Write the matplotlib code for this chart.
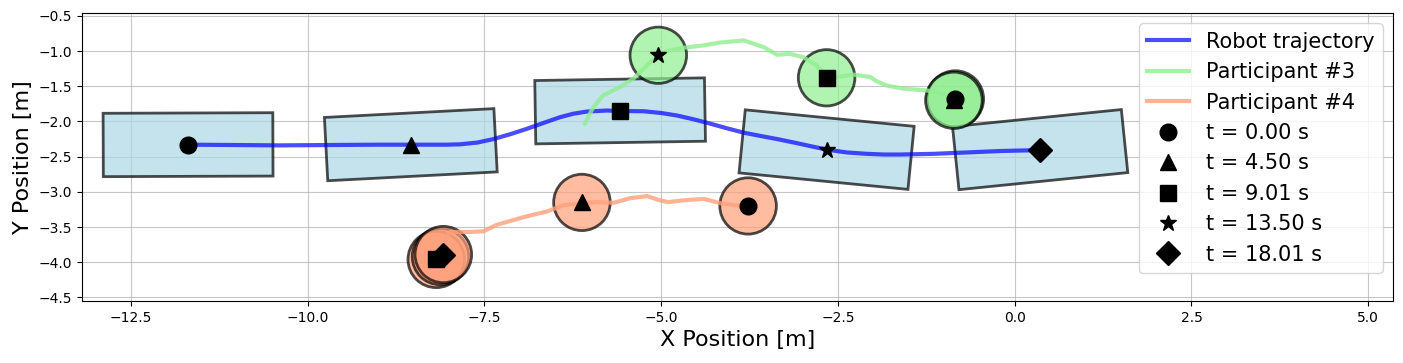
import matplotlib
matplotlib.use("Agg")
import matplotlib.pyplot as plt
from matplotlib.patches import Rectangle, Circle
from matplotlib.lines import Line2D
import matplotlib.transforms as mtransforms
import numpy as np

# ---- data ----
times = [0.00, 4.50, 9.01, 13.50, 18.01]
marker_shapes = ['o', '^', 's', '*', 'D']

robot_x = [-11.69, -11.0, -10.39, -9.7, -8.98, -8.54, -8.03, -7.845, -7.6, -7.37, -7.13,
           -6.90, -6.66, -6.43, -6.24, -6.05, -5.77, -5.58, -5.25, -5.0, -4.78, -4.54,
           -4.31, -4.06, -3.83, -3.60, -3.36, -3.12, -2.89, -2.66, -2.38, -2.09, -1.85,
           -1.62, -1.15, -0.67, -0.20, 0.22, 0.36]
robot_y = [-2.33, -2.335, -2.34, -2.335, -2.33, -2.33, -2.33, -2.325, -2.30, -2.25, -2.18,
           -2.105, -2.02, -1.94, -1.89, -1.86, -1.845, -1.852, -1.855, -1.88, -1.915, -1.97,
           -2.03, -2.10, -2.16, -2.205, -2.25, -2.30, -2.35, -2.40, -2.44, -2.46, -2.47,
           -2.47, -2.46, -2.44, -2.42, -2.41, -2.40]

# robot poses at the marker times (x, y, heading in degrees)
robot_pose_x = [-11.69, -8.54, -5.58, -2.66, 0.36]
robot_pose_y = [-2.33, -2.33, -1.85, -2.40, -2.40]
robot_pose_heading = [0.2, 3.0, 0.9, -5.6, 5.8]
robot_length = 2.4
robot_width = 0.9

p3_x = [-0.84, -1.05, -1.24, -1.57, -1.81, -1.95, -2.04, -2.28, -2.52, -2.66, -2.80, -2.99,
        -3.18, -3.36, -3.55, -3.83, -4.17, -4.40, -4.68, -4.92, -5.04, -5.20, -5.39,
        -5.58, -5.82, -5.96, -6.08]
p3_y = [-1.68, -1.60, -1.56, -1.535, -1.49, -1.43, -1.37, -1.335, -1.37, -1.38, -1.205, -1.087,
        -1.04, -1.053, -0.945, -0.85, -0.88, -0.92, -0.953, -1.0, -1.06, -1.205, -1.39,
        -1.51, -1.63, -1.80, -2.03]
p3_pose_x = [-0.84, -0.86, -2.66, -5.04]
p3_pose_y = [-1.68, -1.70, -1.38, -1.06]

p4_x = [-3.77, -3.95, -4.12, -4.40, -4.68, -4.90, -5.02, -5.20, -5.44, -5.67, -5.91, -6.12,
        -6.38, -6.62, -6.95, -7.33, -7.51, -7.70, -7.985, -8.05, -8.12, -8.18]
p4_y = [-3.20, -3.19, -3.17, -3.10, -3.12, -3.146, -3.12, -3.06, -3.09, -3.155, -3.146, -3.16,
        -3.19, -3.28, -3.36, -3.47, -3.56, -3.57, -3.57, -3.68, -3.82, -3.95]
p4_pose_x = [-3.77, -6.12, -8.18, -8.12, -8.08]
p4_pose_y = [-3.20, -3.15, -3.96, -3.92, -3.89]

person_radius = 0.4

# ---- figure ----
W, H = 1403, 363
fig = plt.figure(figsize=(W / 100, H / 100), dpi=100)
ax = fig.add_axes([82 / W, (H - 301) / H, (1393 - 82) / W, (301 - 13) / H])

# robot footprints
for x, y, h in zip(robot_pose_x, robot_pose_y, robot_pose_heading):
    rect = Rectangle((x - robot_length / 2, y - robot_width / 2), robot_length, robot_width,
                     facecolor='lightblue', edgecolor='black', linewidth=2, alpha=0.7, zorder=2)
    t = mtransforms.Affine2D().rotate_deg_around(x, y, h) + ax.transData
    rect.set_transform(t)
    ax.add_patch(rect)

# participants
for x, y in zip(p3_pose_x, p3_pose_y):
    ax.add_patch(Circle((x, y), person_radius, facecolor='lightgreen', edgecolor='black',
                        linewidth=2, alpha=0.7, zorder=3))
for x, y in zip(p4_pose_x, p4_pose_y):
    ax.add_patch(Circle((x, y), person_radius, facecolor='lightsalmon', edgecolor='black',
                        linewidth=2, alpha=0.7, zorder=3))

ax.plot(robot_x, robot_y, color='blue', alpha=0.7, linewidth=3, zorder=4,
        solid_joinstyle='round', label='Robot trajectory')
ax.plot(p3_x, p3_y, color='lightgreen', alpha=0.8, linewidth=3, zorder=4,
        solid_joinstyle='round', label='Participant #3')
ax.plot(p4_x, p4_y, color='lightsalmon', alpha=0.8, linewidth=3, zorder=4,
        solid_joinstyle='round', label='Participant #4')

for i, m in enumerate(marker_shapes):
    ax.plot(robot_pose_x[i], robot_pose_y[i], marker=m, color='black', markersize=12, linestyle='none', zorder=5)
    if i < len(p3_pose_x):
        ax.plot(p3_pose_x[i], p3_pose_y[i], marker=m, color='black', markersize=12, linestyle='none', zorder=5)
    if i < len(p4_pose_x):
        ax.plot(p4_pose_x[i], p4_pose_y[i], marker=m, color='black', markersize=12, linestyle='none', zorder=5)

handles, labels = ax.get_legend_handles_labels()
for t, m in zip(times, marker_shapes):
    handles.append(Line2D([], [], marker=m, color='black', markersize=12, linestyle='none'))
    labels.append(f"t = {t:.2f} s")
ax.legend(handles, labels, loc='upper right', fontsize=15)

ax.set_xlim(-13.19, 5.35)
ax.set_ylim(-4.55, -0.46)
ax.set_xticks(np.arange(-12.5, 5.01, 2.5))
ax.set_yticks(np.arange(-4.5, -0.49, 0.5))
ax.grid(True, alpha=0.7)
ax.set_axisbelow(True)
ax.set_xlabel('X Position [m]', fontsize=16)
ax.set_ylabel('Y Position [m]', fontsize=16)

fig.savefig('out.png', dpi=100)
